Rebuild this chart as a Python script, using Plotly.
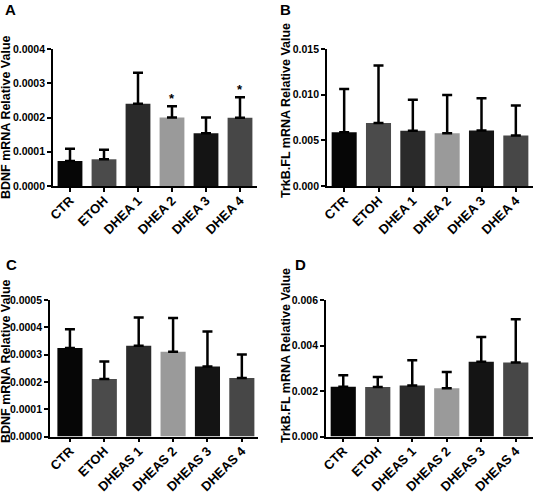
import plotly.graph_objects as go

# ---- data ----
cats_dhea = ["CTR", "ETOH", "DHEA 1", "DHEA 2", "DHEA 3", "DHEA 4"]
cats_dheas = ["CTR", "ETOH", "DHEAS 1", "DHEAS 2", "DHEAS 3", "DHEAS 4"]

a_bdnf_mean = [0.000073, 0.000078, 0.000240, 0.000200, 0.000154, 0.000199]
a_bdnf_err = [0.000036, 0.000028, 0.000091, 0.000033, 0.000046, 0.000060]
a_sig = ["", "", "", "*", "", "*"]

b_trkb_mean = [0.00589, 0.00691, 0.00604, 0.00578, 0.00607, 0.00552]
b_trkb_err = [0.00472, 0.00629, 0.00340, 0.00417, 0.00355, 0.00329]

c_bdnf_mean = [0.000324, 0.000211, 0.000332, 0.000310, 0.000256, 0.000214]
c_bdnf_err = [0.000069, 0.000064, 0.000104, 0.000124, 0.000129, 0.000086]

d_trkb_mean = [0.00219, 0.00218, 0.00224, 0.00212, 0.00329, 0.00325]
d_trkb_err = [0.00050, 0.00044, 0.00111, 0.00072, 0.00108, 0.00190]

y_ticks_a = [0.0, 0.0001, 0.0002, 0.0003, 0.0004]
y_ticks_b = [0.0, 0.005, 0.010, 0.015]
y_ticks_c = [0.0, 0.0001, 0.0002, 0.0003, 0.0004, 0.0005]
y_ticks_d = [0.0, 0.002, 0.004, 0.006]

bar_colors = ["#060606", "#4b4b4b", "#2a2a2a", "#9a9a9a", "#141414", "#474747"]

W, H = 535, 494
FONT = "Liberation Sans, Arial, sans-serif"

fig = go.Figure()

panels = [
    dict(ax="", cats=cats_dhea, mean=a_bdnf_mean, err=a_bdnf_err, ticks=y_ticks_a, fmt=".4f",
         x=(53, 257), y=(49, 186), xr=[-0.5, 5.5], title="BDNF mRNA Relative Value",
         tx=6, ty=117, letter="A", lx=10, ly=9),
    dict(ax="2", cats=cats_dhea, mean=b_trkb_mean, err=b_trkb_err, ticks=y_ticks_b, fmt=".3f",
         x=(327, 533), y=(49, 186), xr=[-0.5, 5.5], title="TrkB.FL mRNA Relative Value",
         tx=286, ty=111, letter="B", lx=285, ly=9),
    dict(ax="3", cats=cats_dheas, mean=c_bdnf_mean, err=c_bdnf_err, ticks=y_ticks_c, fmt=".4f",
         x=(50, 258), y=(300, 436.5), xr=[-0.58, 5.47], title="BDNF mRNA Relative Value",
         tx=6, ty=361, letter="C", lx=12, ly=264),
    dict(ax="4", cats=cats_dheas, mean=d_trkb_mean, err=d_trkb_err, ticks=y_ticks_d, fmt=".3f",
         x=(326, 533), y=(300, 436.5), xr=[-0.5, 5.5], title="TrkB.FL mRNA Relative Value",
         tx=286, ty=356, letter="D", lx=300, ly=264),
]

annotations = []
for p in panels:
    xa = "x" + p["ax"]
    ya = "y" + p["ax"]
    fig.add_trace(go.Bar(
        x=list(range(6)), y=p["mean"], xaxis=xa, yaxis=ya,
        marker=dict(color=bar_colors, line=dict(width=0)),
        width=0.73,
        error_y=dict(type="data", array=p["err"], arrayminus=[0] * 6, symmetric=False,
                     color="black", thickness=2.5, width=5),
        showlegend=False, hoverinfo="skip",
    ))
    key = p["ax"]
    fig.update_layout(**{
        "xaxis" + key: dict(
            domain=[p["x"][0] / W, p["x"][1] / W], anchor=ya, range=p["xr"], automargin=False,
            tickmode="array", tickvals=list(range(6)), ticktext=p["cats"], tickangle=-45,
            showline=True, linecolor="black", linewidth=1.8, ticks="outside", ticklen=4,
            tickwidth=1.5, tickcolor="black", showgrid=False, zeroline=False,
            ticklabelstandoff=-4,
            tickfont=dict(family=FONT, size=13, color="black", weight="bold"),
        ),
        "yaxis" + key: dict(
            domain=[1 - p["y"][1] / H, 1 - p["y"][0] / H], anchor=xa, automargin=False,
            range=[0, p["ticks"][-1]], tickmode="array", tickvals=p["ticks"],
            ticktext=[format(t, p["fmt"]) for t in p["ticks"]],
            showline=True, linecolor="black", linewidth=1.8, ticks="outside", ticklen=4,
            tickwidth=1.5, tickcolor="black", showgrid=False, zeroline=False,
            tickfont=dict(family=FONT, size=10.5, color="black", weight="bold"),
        ),
    })
    annotations.append(dict(
        text=p["title"], textangle=-90, x=p["tx"] / W, y=1 - p["ty"] / H,
        xref="paper", yref="paper", showarrow=False, xanchor="center", yanchor="middle",
        font=dict(family=FONT, size=12.5, color="black", weight="bold"),
    ))
    annotations.append(dict(
        text=p["letter"], x=p["lx"] / W, y=1 - p["ly"] / H,
        xref="paper", yref="paper", showarrow=False, xanchor="center", yanchor="middle",
        font=dict(family=FONT, size=15, color="black", weight="bold"),
    ))

for i, s in enumerate(a_sig):
    if s:
        annotations.append(dict(
            text=s, x=i, y=a_bdnf_mean[i] + a_bdnf_err[i], xref="x", yref="y",
            showarrow=False, yanchor="bottom", yshift=-2,
            font=dict(family=FONT, size=13, color="black", weight="bold"),
        ))

fig.update_layout(
    width=W, height=H, margin=dict(l=0, r=0, t=0, b=0, autoexpand=False),
    paper_bgcolor="white", plot_bgcolor="white",
    annotations=annotations, bargap=0.27,
)

fig.write_html("out.html", config={"displayModeBar": False},
               post_script="document.body.style.margin='0';")
